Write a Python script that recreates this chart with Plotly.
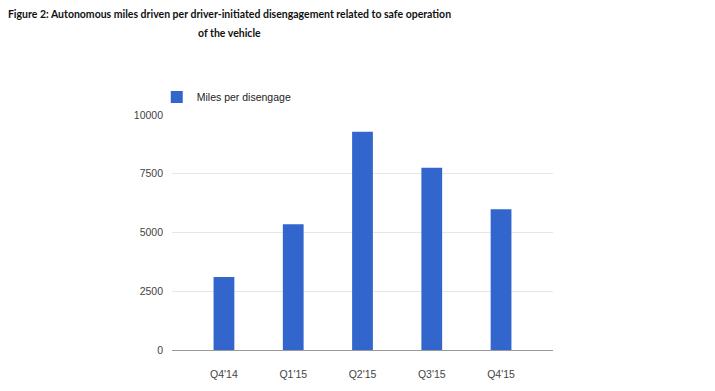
import plotly.graph_objects as go

quarters = ["Q4'14", "Q1'15", "Q2'15", "Q3'15", "Q4'15"]
miles_per_disengage = [3110, 5350, 9290, 7760, 5990]
y_ticks = [0, 2500, 5000, 7500, 10000]
y_tick_labels = ["0", "2500", "5000", "7500", "10000"]
series_name = "Miles per disengage"
title_line1 = "Figure 2: Autonomous miles driven per driver-initiated disengagement related to safe operation"
title_line2 = "of the vehicle"

W, H = 715, 391
L, R, T, B = 172, 162, 115, 41
plot_h = H - T - B
plot_w = W - L - R

fig = go.Figure()
fig.add_trace(go.Bar(
    x=list(range(len(quarters))), y=miles_per_disengage, name=series_name,
    marker=dict(color="#3366cc", line=dict(width=0)), width=0.30,
))

title_font = dict(family="Lato", size=10.5, color="#111")
fig.update_layout(
    width=W, height=H,
    margin=dict(l=L, r=R, t=T, b=B, autoexpand=False),
    paper_bgcolor="white", plot_bgcolor="white",
    title=dict(text="<b>" + title_line1 + "</b>", xref="container", x=229.5/W, xanchor="center",
               yref="container", y=1 - 11/H, yanchor="top", font=title_font),
    annotations=[dict(text="<b>" + title_line2 + "</b>", xref="paper", yref="paper",
                      x=(229 - L)/plot_w, y=(H - B - 33)/plot_h, xanchor="center", yanchor="middle",
                      showarrow=False, font=title_font)],
    showlegend=True,
    legend=dict(x=-0.04, xanchor="left", y=1.077, yanchor="middle", bgcolor="rgba(0,0,0,0)",
                font=dict(family="Liberation Sans, Arial", size=10.5, color="#222")),
    bargap=0.7,
)
fig.update_xaxes(
    range=[-0.75, 4.75], tickmode="array", tickvals=list(range(len(quarters))), ticktext=quarters,
    showgrid=False, showline=True, linecolor="#999", linewidth=1, zeroline=False,
    ticks="", ticklabelstandoff=14,
    tickfont=dict(family="Liberation Sans, Arial", size=10.5, color="#444"),
)
fig.update_yaxes(
    range=[0, 10000], tickmode="array", tickvals=y_ticks, ticktext=y_tick_labels,
    showgrid=True, gridcolor="#e6e6e6", gridwidth=1, zeroline=False, showline=False,
    ticks="", ticklabelstandoff=8,
    tickfont=dict(family="Liberation Sans, Arial", size=10.5, color="#444"),
)

fig.write_html("out.html", config={"displayModeBar": False},
               post_script="document.body.style.margin='0';")
